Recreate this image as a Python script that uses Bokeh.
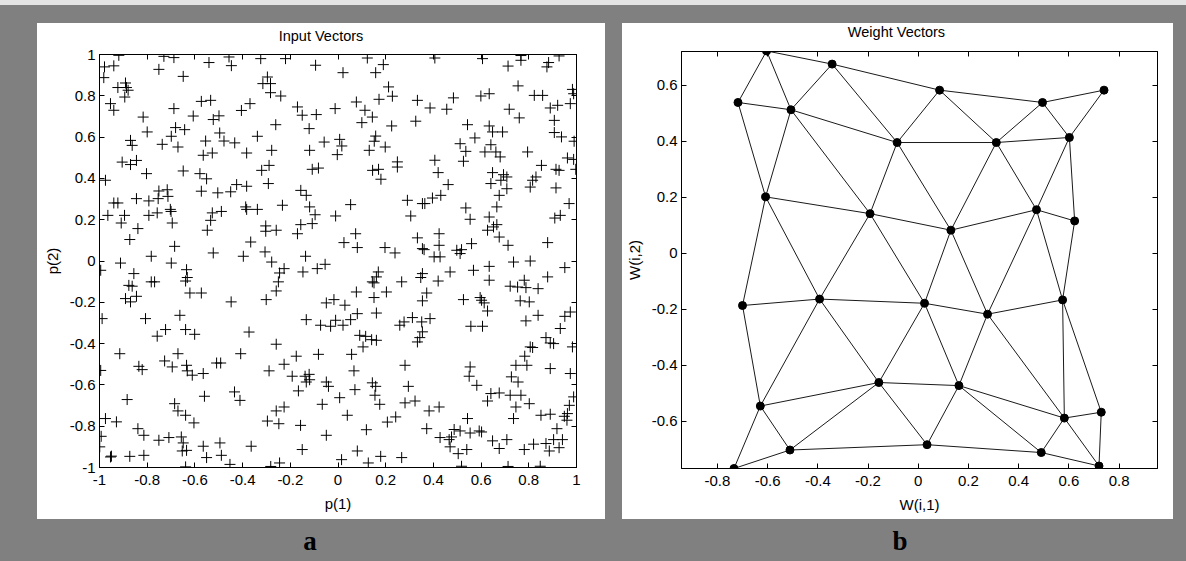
from bokeh.plotting import figure
from bokeh.models import (Range1d, FixedTicker, LinearAxis, CustomJSTickFormatter, Div)
from bokeh.layouts import row, column
from bokeh.embed import file_html
from bokeh.resources import INLINE

# ---------------- data: input vectors (p(1), p(2)) ----------------
inputs_top_left = [(-0.919,0.996),(-0.979,0.940),(-0.940,0.945),(-0.982,0.888),(-0.923,0.840),(-0.891,0.862),(-0.887,0.840),(-0.880,0.827),(-0.894,0.794),(-0.954,0.762),(-0.940,0.730),(-0.751,0.928),(-0.730,0.991),(-0.688,0.985),(-0.649,0.894),(-0.541,0.961),(-0.457,0.988),(-0.447,0.946),(-0.817,0.697),(-0.800,0.625),(-0.688,0.738),(-0.607,0.702),(-0.573,0.773),(-0.534,0.778),(-0.523,0.685),(-0.499,0.703),(-0.405,0.729),(-0.369,0.762),(-0.681,0.646),(-0.643,0.636),(-0.699,0.604),(-0.737,0.565),(-0.671,0.552),(-0.870,0.584),(-0.863,0.560),(-0.555,0.581),(-0.496,0.620),(-0.478,0.581),(-0.433,0.572),(-0.383,0.523),(-0.338,0.604),(-0.565,0.512),(-0.527,0.523),(-0.905,0.479),(-0.870,0.467),(-0.845,0.487),(-0.803,0.423),(-0.975,0.391),(-0.649,0.436),(-0.579,0.423),(-0.551,0.398),(-0.573,0.338),(-0.504,0.330),(-0.450,0.335),(-0.425,0.370),(-0.383,0.362),(-0.751,0.339),(-0.716,0.345),(-0.713,0.313),(-0.754,0.302),(-0.845,0.302),(-0.793,0.291),(-0.940,0.281),(-0.923,0.281),(-0.965,0.221),(-0.895,0.221),(-0.793,0.221),(-0.758,0.233),(-0.703,0.250),(-0.700,0.240),(-0.695,0.184),(-0.527,0.233),(-0.489,0.240),(-0.534,0.197),(-0.548,0.149),(-0.387,0.262),(-0.383,0.250),(-0.338,0.250),(-0.909,0.184),(-0.839,0.157),(-0.873,0.104),(-0.366,0.092)]
inputs_top_mid = [(-0.324,0.980),(-0.220,0.980),(-0.094,0.948),(0.021,0.912),(0.123,0.983),(0.158,0.912),(0.190,0.951),(-0.296,0.891),(-0.315,0.859),(-0.283,0.859),(-0.283,0.815),(-0.240,0.799),(0.212,0.843),(0.228,0.798),(0.172,0.783),(0.077,0.770),(0.113,0.730),(0.144,0.697),(0.100,0.670),(0.333,0.778),(0.326,0.677),(0.225,0.654),(-0.170,0.746),(-0.150,0.706),(-0.091,0.709),(-0.012,0.738),(-0.121,0.641),(-0.261,0.660),(-0.058,0.576),(0.007,0.589),(0.016,0.557),(-0.003,0.515),(-0.119,0.536),(-0.278,0.536),(0.158,0.605),(0.152,0.580),(0.198,0.552),(0.131,0.536),(0.249,0.480),(0.249,0.455),(0.145,0.439),(0.170,0.444),(0.180,0.396),(-0.108,0.444),(-0.082,0.450),(-0.289,0.463),(-0.320,0.439),(-0.292,0.375),(-0.156,0.342),(-0.133,0.318),(-0.119,0.262),(-0.096,0.224),(-0.108,0.181),(-0.156,0.176),(-0.170,0.132),(-0.233,0.270),(-0.010,0.218),(0.053,0.273),(-0.303,0.170),(-0.303,0.144),(-0.259,0.149),(0.074,0.132),(0.025,0.089),(0.291,0.294),(0.354,0.278),(0.305,0.218),(0.333,0.112)]
inputs_top_right = [(0.406,0.983),(0.606,0.980),(0.713,0.944),(0.767,0.972),(0.767,0.995),(0.883,0.961),(0.876,0.940),(0.927,0.993),(0.755,0.848),(0.823,0.802),(0.858,0.802),(0.983,0.831),(0.988,0.810),(0.974,0.762),(0.890,0.741),(0.921,0.754),(0.907,0.681),(0.599,0.799),(0.634,0.810),(0.484,0.790),(0.456,0.735),(0.386,0.741),(0.718,0.735),(0.760,0.693),(0.543,0.660),(0.574,0.596),(0.634,0.654),(0.648,0.625),(0.690,0.625),(0.512,0.568),(0.536,0.531),(0.526,0.483),(0.616,0.528),(0.641,0.563),(0.662,0.528),(0.680,0.504),(0.795,0.528),(0.907,0.622),(0.937,0.601),(0.990,0.580),(0.962,0.499),(0.988,0.492),(0.997,0.444),(0.853,0.463),(0.914,0.444),(0.927,0.439),(0.406,0.488),(0.420,0.428),(0.462,0.370),(0.648,0.428),(0.694,0.418),(0.708,0.407),(0.641,0.375),(0.683,0.391),(0.708,0.350),(0.676,0.318),(0.830,0.407),(0.816,0.391),(0.806,0.358),(0.914,0.354),(0.431,0.318),(0.396,0.305),(0.364,0.278),(0.666,0.262),(0.536,0.257),(0.554,0.202),(0.634,0.213),(0.627,0.149),(0.652,0.165),(0.666,0.176),(0.676,0.116),(0.969,0.278),(0.909,0.208),(0.932,0.221),(0.424,0.132),(0.560,0.084),(0.879,0.089)]
inputs_bottom_left = [(-0.685,0.071),(-0.783,0.023),(-0.912,-0.010),(-0.699,-0.010),(-0.523,0.039),(-0.397,0.023),(-0.635,-0.042),(-0.856,-0.061),(-0.632,-0.080),(-0.639,-0.097),(-0.877,-0.118),(-0.863,-0.122),(-0.783,-0.101),(-0.769,-0.101),(-0.621,-0.155),(-0.573,-0.155),(-0.891,-0.182),(-0.870,-0.198),(-0.845,-0.171),(-0.448,-0.198),(-0.989,-0.279),(-0.807,-0.279),(-0.663,-0.263),(-0.758,-0.364),(-0.723,-0.332),(-0.639,-0.332),(-0.601,-0.355),(-0.373,-0.344),(-0.915,-0.449),(-0.671,-0.449),(-0.408,-0.449),(-0.995,-0.045),(-0.995,-0.530),(-0.727,-0.484),(-0.695,-0.513),(-0.835,-0.510),(-0.821,-0.526),(-0.635,-0.505),(-0.632,-0.532),(-0.611,-0.553),(-0.565,-0.545),(-0.509,-0.494),(-0.492,-0.494),(-0.560,-0.655),(-0.884,-0.671),(-0.434,-0.634),(-0.411,-0.675),(-0.685,-0.691),(-0.671,-0.726),(-0.639,-0.747),(-0.604,-0.784),(-0.975,-0.763),(-0.929,-0.779),(-0.993,-0.849),(-0.999,-0.900),(-0.954,-0.949),(-0.950,-0.945),(-0.839,-0.812),(-0.814,-0.844),(-0.751,-0.868),(-0.709,-0.855),(-0.657,-0.852),(-0.649,-0.881),(-0.653,-0.920),(-0.635,-0.917),(-0.565,-0.897),(-0.495,-0.881),(-0.873,-0.946),(-0.814,-0.941),(-0.551,-0.952),(-0.489,-0.941),(-0.453,-0.985),(-0.639,-0.997),(-0.364,-0.897)]
inputs_bottom_mid = [(0.081,0.065),(0.197,0.065),(0.239,0.039),(0.354,0.060),(-0.306,0.044),(-0.278,-0.005),(-0.136,0.023),(-0.087,-0.037),(-0.054,-0.016),(-0.147,-0.053),(-0.226,-0.037),(-0.245,-0.058),(-0.250,-0.101),(-0.259,-0.145),(-0.301,-0.187),(0.169,-0.053),(0.161,-0.077),(0.144,-0.101),(0.151,-0.106),(0.267,-0.101),(0.354,-0.061),(0.347,-0.080),(0.077,-0.150),(0.151,-0.177),(0.203,-0.150),(0.354,-0.193),(-0.049,-0.203),(-0.017,-0.187),(0.029,-0.214),(0.081,-0.255),(0.053,-0.284),(0.161,-0.252),(-0.133,-0.284),(-0.073,-0.311),(-0.031,-0.316),(-0.010,-0.287),(0.021,-0.311),(0.259,-0.311),(0.277,-0.295),(0.312,-0.274),(0.351,-0.295),(0.354,-0.343),(0.343,-0.371),(0.333,-0.392),(0.091,-0.360),(0.116,-0.365),(0.141,-0.381),(0.161,-0.384),(0.105,-0.416),(-0.259,-0.403),(-0.175,-0.461),(-0.082,-0.452),(0.057,-0.452),(-0.226,-0.500),(-0.289,-0.532),(-0.192,-0.558),(-0.138,-0.558),(-0.121,-0.549),(-0.119,-0.575),(-0.133,-0.586),(-0.166,-0.629),(-0.049,-0.586),(-0.040,-0.607),(0.067,-0.532),(0.071,-0.623),(0.007,-0.662),(0.144,-0.590),(0.158,-0.607),(0.155,-0.650),(0.175,-0.694),(0.281,-0.505),(0.295,-0.607),(0.281,-0.687),(0.323,-0.678),(-0.066,-0.694),(0.039,-0.747),(-0.259,-0.726),(-0.226,-0.707),(-0.296,-0.775),(-0.248,-0.788),(-0.157,-0.796),(-0.049,-0.844),(0.119,-0.817),(0.207,-0.780),(0.242,-0.755),(-0.150,-0.913),(0.081,-0.920),(0.179,-0.946),(0.267,-0.952),(0.015,-0.962),(0.127,-0.978),(-0.245,-0.978),(-0.282,-0.995)]
inputs_bottom_right = [(0.361,0.055),(0.424,0.076),(0.403,0.020),(0.428,0.020),(0.498,0.052),(0.518,0.055),(0.512,0.036),(0.713,0.076),(0.372,-0.155),(0.386,-0.279),(0.470,-0.053),(0.420,-0.097),(0.568,-0.045),(0.634,-0.026),(0.634,-0.093),(0.736,-0.005),(0.806,0.000),(0.951,-0.032),(0.879,-0.077),(0.722,-0.122),(0.753,-0.126),(0.781,-0.093),(0.788,-0.129),(0.839,-0.134),(0.526,-0.187),(0.596,-0.177),(0.602,-0.190),(0.613,-0.203),(0.627,-0.242),(0.764,-0.193),(0.802,-0.198),(0.839,-0.263),(0.788,-0.290),(0.951,-0.268),(0.974,-0.247),(0.932,-0.327),(0.557,-0.316),(0.606,-0.316),(0.872,-0.371),(0.890,-0.397),(0.904,-0.400),(0.806,-0.416),(0.816,-0.419),(0.983,-0.416),(0.783,-0.461),(0.792,-0.505),(0.746,-0.505),(0.890,-0.521),(0.974,-0.545),(0.554,-0.513),(0.550,-0.558),(0.582,-0.602),(0.727,-0.561),(0.755,-0.586),(0.627,-0.678),(0.641,-0.642),(0.676,-0.639),(0.722,-0.650),(0.767,-0.650),(0.802,-0.691),(0.746,-0.707),(0.736,-0.763),(0.988,-0.658),(0.970,-0.699),(0.962,-0.739),(0.960,-0.771),(0.949,-0.752),(0.851,-0.747),(0.890,-0.742),(0.918,-0.812),(0.904,-0.865),(0.941,-0.865),(0.886,-0.920),(0.927,-0.904),(0.872,-0.884),(0.820,-0.887),(0.781,-0.913),(0.708,-0.865),(0.648,-0.871),(0.676,-0.908),(0.382,-0.726),(0.424,-0.707),(0.372,-0.812),(0.543,-0.763),(0.487,-0.816),(0.512,-0.823),(0.476,-0.852),(0.554,-0.833),(0.592,-0.823),(0.602,-0.828),(0.428,-0.855),(0.466,-0.865),(0.470,-0.900),(0.504,-0.933),(0.540,-0.913),(0.518,-0.994),(0.713,-0.995),(0.848,-0.994)]

# ---------------- data: SOM weight vectors, 6 rows x 5 columns (hexagonal grid) ----------------
w1_rows = [
    [-0.734, -0.511, 0.035, 0.490, 0.720],
    [-0.629, -0.157, 0.162, 0.582, 0.729],
    [-0.700, -0.393, 0.025, 0.276, 0.575],
    [-0.608, -0.192, 0.130, 0.471, 0.623],
    [-0.718, -0.507, -0.084, 0.311, 0.602],
    [-0.604, -0.343, 0.085, 0.495, 0.740],
]
w2_rows = [
    [-0.769, -0.703, -0.684, -0.712, -0.760],
    [-0.546, -0.462, -0.473, -0.589, -0.568],
    [-0.187, -0.164, -0.179, -0.218, -0.167],
    [0.201, 0.141, 0.082, 0.155, 0.115],
    [0.538, 0.512, 0.395, 0.395, 0.413],
    [0.722, 0.675, 0.582, 0.538, 0.582],
]

ticks_a = [-1, -0.8, -0.6, -0.4, -0.2, 0, 0.2, 0.4, 0.6, 0.8, 1]
ticks_bx = [-0.8, -0.6, -0.4, -0.2, 0, 0.2, 0.4, 0.6, 0.8]
ticks_by = [-0.6, -0.4, -0.2, 0, 0.2, 0.4, 0.6]

FONT = "Liberation Sans"
TICK_FS = "15px"
BG = "#808080"


def style_axes(p, xt, yt, xlabel, ylabel):
    p.grid.visible = False
    p.outline_line_color = "black"
    p.outline_line_width = 1
    fmt = CustomJSTickFormatter(code="return String(Math.round(tick*10)/10);")
    blank = CustomJSTickFormatter(code="return '';")
    p.add_layout(LinearAxis(), "above")
    p.add_layout(LinearAxis(), "right")
    for axes, tk in ((p.below + p.above, xt), (p.left + p.right, yt)):
        for ax in axes:
            ax.ticker = FixedTicker(ticks=tk)
            ax.major_tick_in = 5
            ax.major_tick_out = 0
            ax.minor_tick_line_color = None
            ax.axis_line_color = "black"
            ax.major_tick_line_color = "black"
            ax.major_label_text_font = FONT
            ax.major_label_text_font_size = TICK_FS
            ax.major_label_text_color = "black"
            ax.axis_label_text_font = FONT
            ax.axis_label_text_font_size = TICK_FS
            ax.axis_label_text_font_style = "normal"
            ax.axis_label_text_color = "black"
    for ax in (p.above[0], p.right[0]):
        ax.formatter = blank
        ax.major_label_standoff = 0
        ax.major_label_text_font_size = "1px"
    bx, ly = p.below[0], p.left[0]
    bx.formatter = fmt
    ly.formatter = fmt
    bx.major_label_standoff = 7
    ly.major_label_standoff = 4
    bx.axis_label_standoff = 7
    ly.axis_label_standoff = 6
    bx.axis_label = xlabel
    ly.axis_label = ylabel


def title_div(text, width, height, line_height):
    return Div(text=text, width=width, height=height, margin=0,
               styles={"background-color": "white", "font-family": FONT, "font-size": "14.5px",
                       "line-height": f"{line_height}px", "text-align": "center", "color": "black",
                       "white-space": "nowrap"})


# ---------------- panel a: input vectors ----------------
pa = figure(frame_width=477, frame_height=413,
            min_border_left=62, min_border_right=29, min_border_top=9, min_border_bottom=52,
            x_range=Range1d(-1, 1), y_range=Range1d(-1, 1),
            output_backend="svg", toolbar_location=None,
            background_fill_color="white", border_fill_color="white")
style_axes(pa, ticks_a, ticks_a, "p(1)", "p(2)")
all_inputs = (inputs_top_left + inputs_top_mid + inputs_top_right +
              inputs_bottom_left + inputs_bottom_mid + inputs_bottom_right)
p1 = [v[0] for v in all_inputs]
p2 = [v[1] for v in all_inputs]
pa.scatter(p1, p2, marker="cross", size=11, line_color="black", line_width=1)
panel_a = column(title_div("Input Vectors", 568, 22, 27), pa, spacing=0, margin=(18, 0, 0, 37),
                 styles={"background-color": "white"})

# ---------------- panel b: weight vectors ----------------
pb = figure(frame_width=476, frame_height=417,
            min_border_left=57, min_border_right=16, min_border_top=10, min_border_bottom=51,
            x_range=Range1d(-0.943, 0.953), y_range=Range1d(-0.769, 0.72),
            output_backend="svg", toolbar_location=None,
            background_fill_color="white", border_fill_color="white")
style_axes(pb, ticks_bx, ticks_by, "W(i,1)", "W(i,2)")

n_rows = len(w1_rows)
n_cols = len(w1_rows[0])
x0s, y0s, x1s, y1s = [], [], [], []


def link(r0, c0, r1, c1):
    if 0 <= r1 < n_rows and 0 <= c1 < n_cols:
        x0s.append(w1_rows[r0][c0]); y0s.append(w2_rows[r0][c0])
        x1s.append(w1_rows[r1][c1]); y1s.append(w2_rows[r1][c1])


for r in range(n_rows):
    for c in range(n_cols):
        link(r, c, r, c + 1)
        if r % 2 == 0:
            link(r, c, r + 1, c - 1)
            link(r, c, r + 1, c)
        else:
            link(r, c, r + 1, c)
            link(r, c, r + 1, c + 1)

pb.segment(x0s, y0s, x1s, y1s, line_color="#1a1a1a", line_width=1)
wx = [v for rr in w1_rows for v in rr]
wy = [v for rr in w2_rows for v in rr]
pb.scatter(wx, wy, marker="circle", size=8, fill_color="black", line_color="black")
panel_b = column(title_div("Weight Vectors", 549, 18, 18), pb, spacing=0, margin=(18, 0, 0, 17),
                 styles={"background-color": "white"})

# ---------------- panel letters ----------------
letter_style = {"font-family": "Liberation Serif", "font-weight": "bold", "font-size": "27px",
                "line-height": "27px", "text-align": "center", "color": "black"}
da = Div(text="a", width=60, height=27, styles=letter_style, margin=(9, 0, 0, 280))
db = Div(text="b", width=60, height=27, styles=letter_style, margin=(9, 0, 0, 530))

strip = Div(text="", width=1186, height=5, margin=0, styles={"background-color": "#e4e4e4"})

layout = column(strip, row(panel_a, panel_b, spacing=0), row(da, db, spacing=0),
                width=1186, height=561, spacing=0, styles={"background-color": BG})

open("out.html", "w").write(file_html(layout, INLINE))
